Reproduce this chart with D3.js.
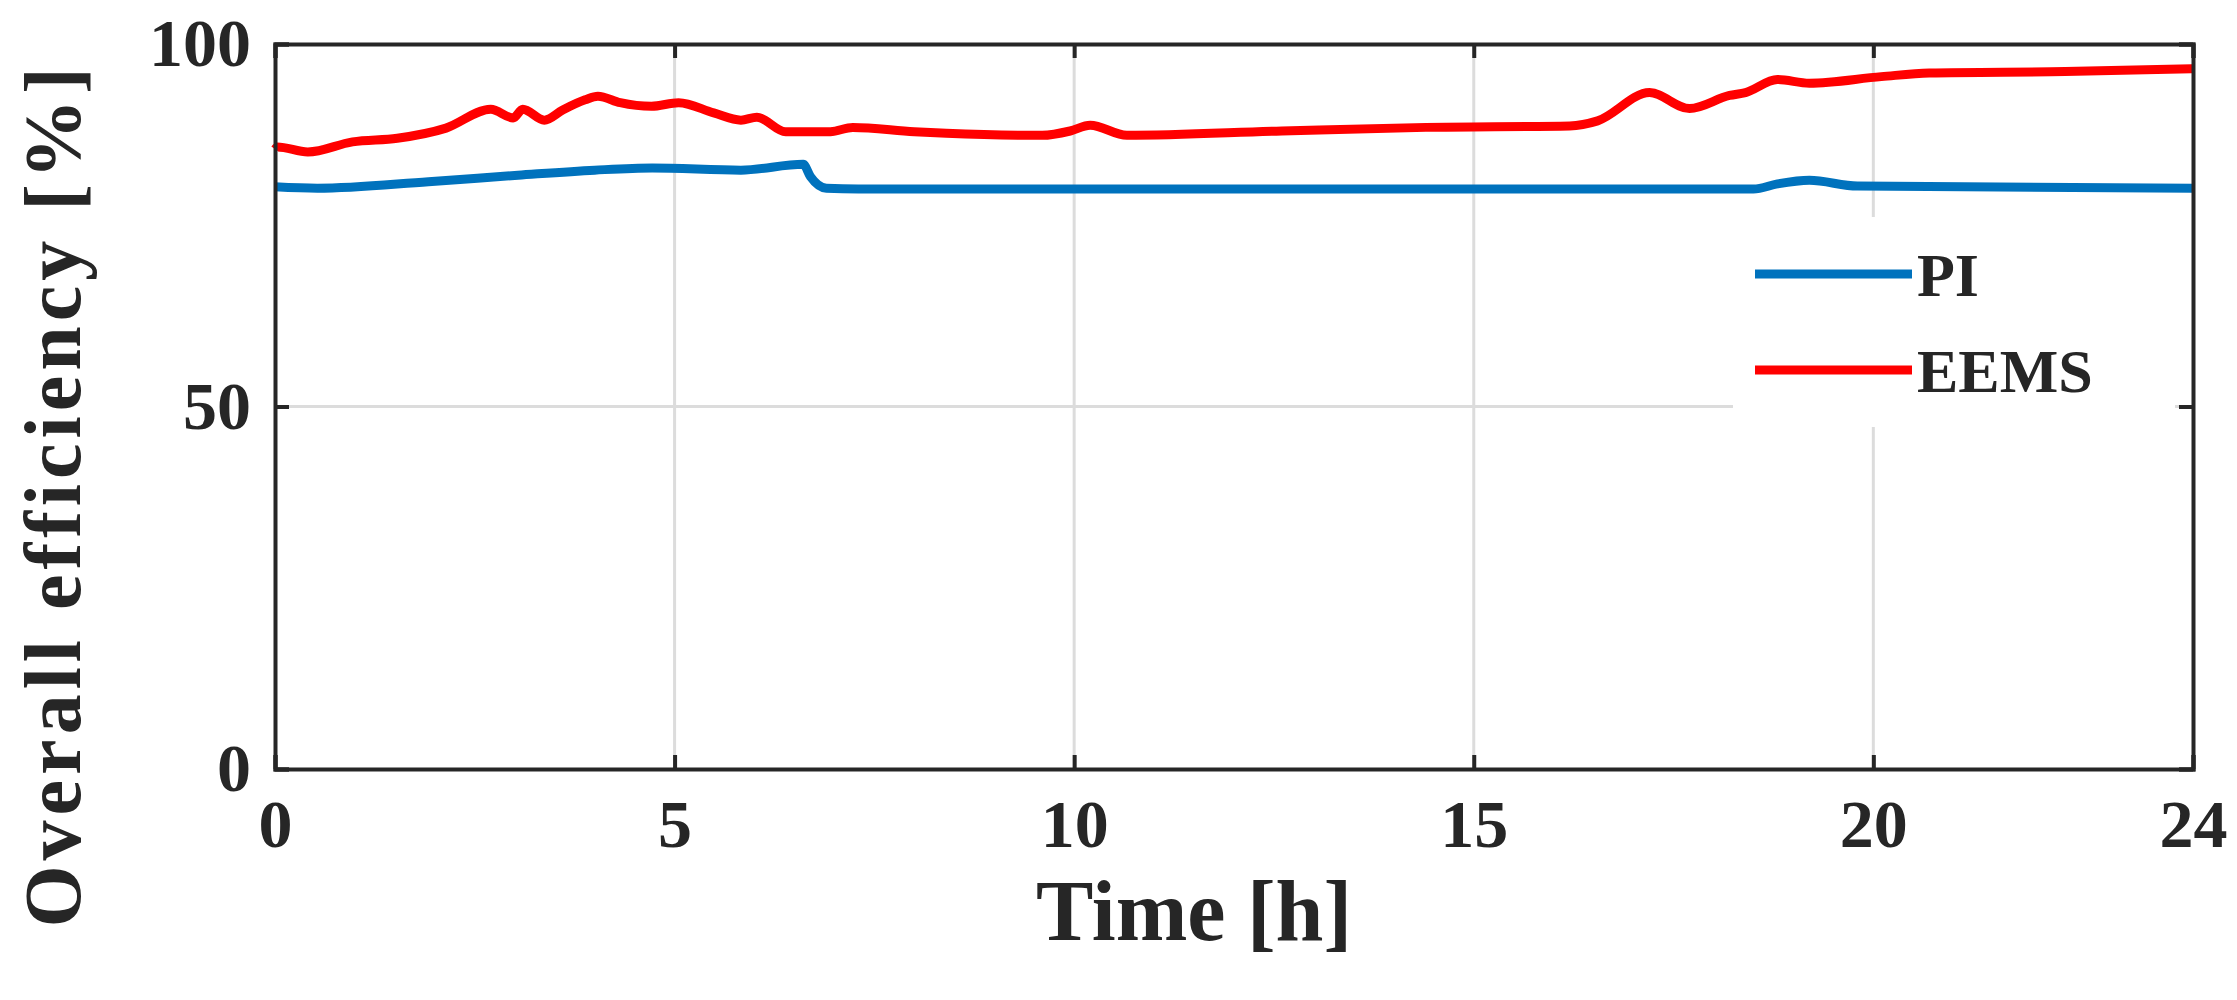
<!DOCTYPE html>
<html><head><meta charset="utf-8">
<script src="https://cdn.jsdelivr.net/npm/d3@7"></script>
<style>body{margin:0;background:#fff}text{font-family:"Liberation Serif","DejaVu Serif",serif;font-weight:bold;fill:#262626}</style>
</head><body><svg id="chart" width="2237" height="1000"></svg>
<script>
// time [h] / efficiency [%]
const eemsT = [0, 0.03, 0.41, 0.97, 1.53, 2.14, 2.70, 2.98, 3.1, 3.37, 3.6, 3.88, 4.04, 4.32, 4.71, 5.05, 5.49, 5.83, 6.03, 6.39, 6.95, 7.23, 8.0, 8.4, 9.6, 9.95, 10.2, 10.66, 12.6, 14.4, 16.2, 16.55, 17.2, 17.7, 18.2, 18.4, 18.8, 19.2, 20.1, 20.7, 22.4, 24];
const eemsV = [85.5, 85.8, 85.1, 86.5, 87.0, 88.4, 91.0, 89.8, 91.0, 89.5, 90.9, 92.3, 92.8, 91.9, 91.4, 91.9, 90.5, 89.5, 89.9, 87.9, 87.9, 88.5, 87.9, 87.7, 87.4, 88.0, 88.8, 87.4, 88.0, 88.5, 88.7, 89.4, 93.3, 91.1, 92.9, 93.3, 95.1, 94.6, 95.5, 96.0, 96.2, 96.6];
const piT = [0, 0.53, 1.92, 3.04, 4.0, 4.72, 5.83, 6.61, 6.70, 6.9, 7.3, 18.5, 18.8, 19.2, 19.8, 24];
const piV = [80.3, 80.1, 81.0, 81.9, 82.6, 82.9, 82.6, 83.4, 81.7, 80.1, 80.0, 80.0, 80.7, 81.2, 80.4, 80.1];
const xTicks = [0, 5, 10, 15, 20, 24];
const yTicks = [0, 50, 100];

const svg = d3.select("#chart");
const m = {left: 275, right: 44, top: 44, bottom: 231};
const W = 2237 - m.left - m.right, H = 1000 - m.top - m.bottom;
const x = d3.scaleLinear().domain([0, 24]).range([0, W]);
const y = d3.scaleLinear().domain([0, 100]).range([H, 0]);
const g = svg.append("g").attr("transform", `translate(${m.left},${m.top})`);

// grid
g.selectAll(".gx").data(xTicks.slice(1, -1)).enter().append("line")
  .attr("x1", d => x(d)).attr("x2", d => x(d)).attr("y1", 0).attr("y2", H)
  .attr("stroke", "#dcdcdc").attr("stroke-width", 3);
g.selectAll(".gy").data(yTicks.slice(1, -1)).enter().append("line")
  .attr("x1", 0).attr("x2", W).attr("y1", d => y(d)).attr("y2", d => y(d))
  .attr("stroke", "#dcdcdc").attr("stroke-width", 3);

const line = d3.line().curve(d3.curveMonotoneX);
g.append("path").attr("d", line(piT.map((t, i) => [x(t), y(piV[i])])))
  .attr("fill", "none").attr("stroke", "#0072bd").attr("stroke-width", 9);
g.append("path").attr("d", line(eemsT.map((t, i) => [x(t), y(eemsV[i])])))
  .attr("fill", "none").attr("stroke", "#ff0000").attr("stroke-width", 9);

// legend
const lg = g.append("g").attr("transform", `translate(${1733 - m.left},${217 - m.top})`);
lg.append("rect").attr("width", 442).attr("height", 210).attr("fill", "#fff");
[["PI", "#0072bd", 57], ["EEMS", "#ff0000", 153]].forEach(([name, c, yy]) => {
  lg.append("line").attr("x1", 22).attr("x2", 179).attr("y1", yy).attr("y2", yy)
    .attr("stroke", c).attr("stroke-width", 9);
  lg.append("text").attr("x", 184).attr("y", yy).attr("dy", "0.35em")
    .style("font-size", "62px").text(name);
});

// axes with ticks on all sides
const tickLen = 14;
const axB = d3.axisBottom(x).tickValues(xTicks).tickSize(-tickLen).tickPadding(30);
const axL = d3.axisLeft(y).tickValues(yTicks).tickSize(-tickLen).tickPadding(24);
const gb = g.append("g").attr("transform", `translate(0,${H})`).call(axB);
const gl = g.append("g").call(axL);
g.append("g").call(d3.axisTop(x).tickValues(xTicks).tickSize(-tickLen).tickFormat(""));
g.append("g").attr("transform", `translate(${W},0)`).call(d3.axisRight(y).tickValues(yTicks).tickSize(-tickLen).tickFormat(""));
g.selectAll(".domain").attr("stroke", "#262626").attr("stroke-width", 4);
g.selectAll(".tick line").attr("stroke", "#262626").attr("stroke-width", 4);
gb.selectAll("text").style("font-size", "68px").attr("fill", "#262626");
gl.selectAll("text").style("font-size", "68px").attr("fill", "#262626");

svg.append("text").attr("x", m.left + W / 2 - 40).attr("y", 940).attr("text-anchor", "middle")
  .style("font-size", "86px").text("Time [h]");
svg.append("text").attr("transform", `translate(80,495) rotate(-90)`)
  .attr("text-anchor", "middle").style("font-size", "80px").style("letter-spacing", "5px")
  .text("Overall efficiency [%]");
</script></body></html>
